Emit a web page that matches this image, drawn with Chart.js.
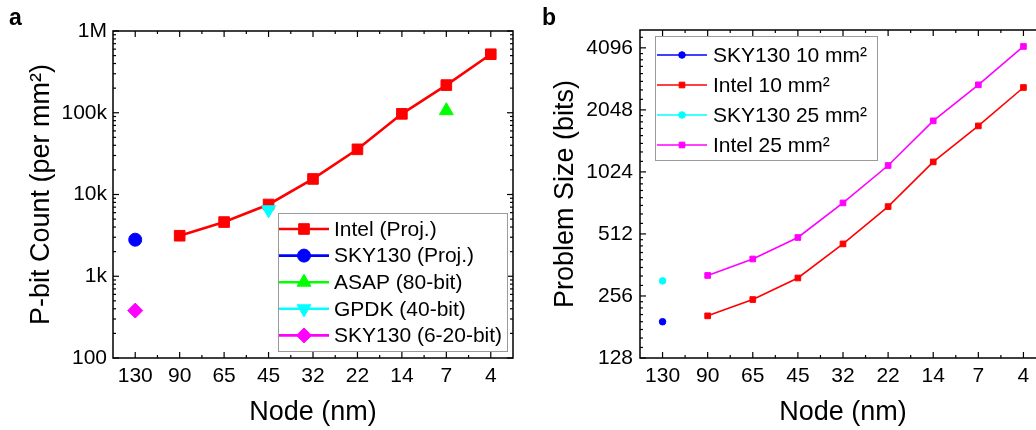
<!DOCTYPE html>
<html><head><meta charset="utf-8">
<script src="https://cdn.jsdelivr.net/npm/chart.js@4.4.1/dist/chart.umd.min.js"></script>
<style>
html,body{margin:0;padding:0;background:#fff;width:1036px;height:430px;overflow:hidden;position:relative}
#wa{position:absolute;left:0;top:0;width:525px;height:430px}
#wb{position:absolute;left:520px;top:0;width:540px;height:430px}
</style></head><body>
<div id="wa"><canvas id="ca"></canvas></div>
<div id="wb"><canvas id="cb"></canvas></div>
<script>
// ---------- data ----------
const nodes = ['130','90','65','45','32','22','14','7','4'];

// panel a : P-bit count per mm^2
const intelProj   = [null, 3130, 4600, 7550, 15500, 35700, 97000, 218000, 520000];
const sky130Proj  = [2800, null, null, null, null, null, null, null, null];
const asap80      = [null, null, null, null, null, null, null, 106000, null];
const gpdk40      = [null, null, null, 6500, null, null, null, null, null];
const sky130Small = [380, null, null, null, null, null, null, null, null];
const aTickValues = [100, 1000, 10000, 100000, 1000000];
const aTickLabels = ['100', '1k', '10k', '100k', '1M'];

// panel b : problem size (bits)
const sky130_10 = [192, null, null, null, null, null, null, null, null];
const intel_10  = [null, 205, 246, 313, 458, 695, 1145, 1712, 2630];
const sky130_25 = [303, null, null, null, null, null, null, null, null];
const intel_25  = [null, 322, 387, 492, 724, 1100, 1812, 2710, 4160];
const bTickValues = [128, 256, 512, 1024, 2048, 4096];
const bTickLabels = ['128', '256', '512', '1024', '2048', '4096'];

// ---------- styling ----------
const FONT = "'Liberation Sans', Arial, Helvetica, sans-serif";
Chart.defaults.font.family = FONT;
Chart.defaults.color = '#000';
const RED='#ff0000', BLUE='#0000ff', GREEN='#00ff00', CYAN='#00ffff', MAG='#ff00ff';

function marker(ctx, style, r, x, y, color, rot) {
  ctx.save();
  ctx.fillStyle = color; ctx.strokeStyle = color; ctx.lineWidth = 1;
  ctx.beginPath();
  if (style === 'rect') {
    const s = Math.SQRT1_2 * r; ctx.rect(x - s, y - s, 2*s, 2*s);
  } else if (style === 'circle') {
    ctx.arc(x, y, r, 0, Math.PI*2);
  } else if (style === 'triangle') {
    let a = (rot||0) * Math.PI/180;
    for (let k=0;k<3;k++){ const px = x + Math.sin(a)*r, py = y - Math.cos(a)*r; k?ctx.lineTo(px,py):ctx.moveTo(px,py); a += 2*Math.PI/3; }
    ctx.closePath();
  } else if (style === 'rectRot') {
    ctx.moveTo(x, y-r); ctx.lineTo(x+r, y); ctx.lineTo(x, y+r); ctx.lineTo(x-r, y); ctx.closePath();
  }
  ctx.fill(); ctx.stroke();
  ctx.restore();
}

function decor(cfg) {
  return {
    id: 'decor',
    afterDatasetsDraw(chart) {
      const ctx = chart.ctx, a = chart.chartArea, xs = chart.scales.x, ys = chart.scales.y;
      ctx.save();
      ctx.strokeStyle = '#000'; ctx.lineWidth = 1.5;
      ctx.strokeRect(a.left, a.top, a.right - a.left, a.bottom - a.top);
      ctx.lineWidth = 1.2;
      const seg = (x1,y1,x2,y2)=>{ctx.beginPath();ctx.moveTo(x1,y1);ctx.lineTo(x2,y2);ctx.stroke();};
      const n = chart.data.labels.length;
      for (let i=0;i<n;i++) {
        const px = xs.getPixelForValue(i);
        seg(px, a.bottom, px, a.bottom-6); seg(px, a.top, px, a.top+6);
        if (i < n-1) {
          const pm = (px + xs.getPixelForValue(i+1))/2;
          seg(pm, a.bottom, pm, a.bottom-3); seg(pm, a.top, pm, a.top+3);
        }
      }
      ys.ticks.forEach(t => {
        const py = ys.getPixelForValue(t.value);
        seg(a.left, py, a.left+6, py); seg(a.right, py, a.right-6, py);
      });
      cfg.minors(ys.min, ys.max).forEach(v => {
        const py = ys.getPixelForValue(v);
        seg(a.left, py, a.left+3, py); seg(a.right, py, a.right-3, py);
      });
      ctx.restore();
    },
    afterDraw(chart) {
      const ctx = chart.ctx, L = cfg.legend;
      ctx.save();
      ctx.strokeStyle = '#9a9a9a'; ctx.lineWidth = 1;
      ctx.strokeRect(L.box[0]+0.5, L.box[1]+0.5, L.box[2], L.box[3]);
      ctx.font = L.font + ' ' + FONT; ctx.textBaseline = 'middle'; ctx.textAlign = 'left';
      L.items.forEach((it, k) => {
        const y = L.y0 + k*L.dy;
        ctx.strokeStyle = it.color; ctx.lineWidth = it.lw;
        ctx.beginPath(); ctx.moveTo(L.x0, y); ctx.lineTo(L.x0 + L.len, y); ctx.stroke();
        marker(ctx, it.style, it.r, L.x0 + L.len/2, y, it.color, it.rot);
        ctx.fillStyle = '#000';
        ctx.fillText(it.label, L.tx, y + 1);
      });
      ctx.font = 'bold 23px ' + FONT; ctx.textBaseline = 'alphabetic'; ctx.fillStyle = '#000';
      ctx.fillText(cfg.panel[0], cfg.panel[1], cfg.panel[2]);
      ctx.restore();
    }
  };
}

function ds(label, data, color, style, r, lw, rot, showLine, order) {
  return {label, data, borderColor: color, backgroundColor: color, borderWidth: lw,
    pointStyle: style, pointRadius: r, pointHoverRadius: r, pointBorderWidth: 1,
    pointRotation: rot || 0, showLine: showLine, spanGaps: false, tension: 0, order: order || 0};
}

// ---------- panel a ----------
const aSets = [
  ds('Intel (Proj.)', intelProj, RED, 'rect', 7.5, 2.6, 0, true, 1),
  ds('SKY130 (Proj.)', sky130Proj, BLUE, 'circle', 6.5, 2.6, 0, false),
  ds('ASAP (80-bit)', asap80, GREEN, 'triangle', 8, 2.6, 0, false),
  ds('GPDK (40-bit)', gpdk40, CYAN, 'triangle', 8, 2.6, 180, false),
  ds('SKY130 (6-20-bit)', sky130Small, MAG, 'rectRot', 7.5, 2.6, 0, false)
];
new Chart(document.getElementById('ca'), {
  type: 'line',
  data: {labels: nodes, datasets: aSets},
  options: {
    responsive: true, maintainAspectRatio: false, animation: false, devicePixelRatio: 1,
    layout: {padding: {top: 31, right: 12, left: 0, bottom: 0}},
    plugins: {legend: {display: false}, tooltip: {enabled: false}},
    scales: {
      x: {type: 'category', offset: true, grid: {display: false, drawTicks: false}, border: {display: false},
          ticks: {font: {size: 21}, padding: 6, maxRotation: 0, autoSkip: false},
          title: {display: true, text: 'Node (nm)', font: {size: 27, lineHeight: 1}, padding: {top: 0, bottom: 4}},
          afterFit(s) { s.height = 72; }},
      y: {type: 'logarithmic', min: 100, max: 1000000, grid: {display: false, drawTicks: false}, border: {display: false},
          afterBuildTicks(s) { s.ticks = aTickValues.map(v => ({value: v})); },
          ticks: {font: {size: 21}, padding: 6, autoSkip: false, callback: (v, i) => aTickLabels[i]},
          title: {display: true, text: 'P-bit Count (per mm²)', font: {size: 27, lineHeight: 1}, padding: {top: 28, bottom: 0}},
          afterFit(s) { s.width = 113; }}
    }
  },
  plugins: [decor({
    minors: (mn, mx) => { const o=[]; for (let d=100; d<mx; d*=10) for (let m=2;m<10;m++) o.push(d*m); return o; },
    legend: {box: [278, 213, 229, 138], x0: 279, len: 50, tx: 334, y0: 229, dy: 26.6, font: '21px',
      items: [
        {label: 'Intel (Proj.)', color: RED, style: 'rect', r: 7.5, lw: 2.6},
        {label: 'SKY130 (Proj.)', color: BLUE, style: 'circle', r: 6.5, lw: 2.6},
        {label: 'ASAP (80-bit)', color: GREEN, style: 'triangle', r: 8, lw: 2.6},
        {label: 'GPDK (40-bit)', color: CYAN, style: 'triangle', r: 8, lw: 2.6, rot: 180},
        {label: 'SKY130 (6-20-bit)', color: MAG, style: 'rectRot', r: 7.5, lw: 2.6}
      ]},
    panel: ['a', 9, 25]
  })]
});

// ---------- panel b ----------
const bSets = [
  ds('SKY130 10 mm²', sky130_10, BLUE, 'circle', 3.3, 1.6, 0, false),
  ds('Intel 10 mm²', intel_10, RED, 'rect', 4, 1.6, 0, true),
  ds('SKY130 25 mm²', sky130_25, CYAN, 'circle', 3.3, 1.6, 0, false),
  ds('Intel 25 mm²', intel_25, MAG, 'rect', 4, 1.6, 0, true)
];
new Chart(document.getElementById('cb'), {
  type: 'line',
  data: {labels: nodes, datasets: bSets},
  options: {
    responsive: true, maintainAspectRatio: false, animation: false, devicePixelRatio: 1,
    layout: {padding: {top: 30, right: 14, left: 0, bottom: 0}},
    plugins: {legend: {display: false}, tooltip: {enabled: false}},
    scales: {
      x: {type: 'category', offset: true, grid: {display: false, drawTicks: false}, border: {display: false},
          ticks: {font: {size: 21}, padding: 6, maxRotation: 0, autoSkip: false},
          title: {display: true, text: 'Node (nm)', font: {size: 27, lineHeight: 1}, padding: {top: 0, bottom: 4}},
          afterFit(s) { s.height = 72; }},
      y: {type: 'logarithmic', min: 128, max: 5000, grid: {display: false, drawTicks: false}, border: {display: false},
          afterBuildTicks(s) { s.ticks = bTickValues.map(v => ({value: v})); },
          ticks: {font: {size: 21}, padding: 7, autoSkip: false, callback: (v, i) => bTickLabels[i]},
          title: {display: true, text: 'Problem Size (bits)', font: {size: 27, lineHeight: 1}, padding: {top: 32, bottom: 0}},
          afterFit(s) { s.width = 120; }}
    }
  },
  plugins: [decor({
    minors: (mn, mx) => { const o=[]; for (let b=128; b<mx; b*=2) for (let k=1;k<8;k++){ const v=b+k*b/8; if (v<mx) o.push(v);} return o; },
    legend: {box: [135, 36, 222, 124], x0: 137, len: 50, tx: 193, y0: 55, dy: 30, font: '21px',
      items: [
        {label: 'SKY130 10 mm²', color: BLUE, style: 'circle', r: 3.3, lw: 1.6},
        {label: 'Intel 10 mm²', color: RED, style: 'rect', r: 4, lw: 1.6},
        {label: 'SKY130 25 mm²', color: CYAN, style: 'circle', r: 3.3, lw: 1.6},
        {label: 'Intel 25 mm²', color: MAG, style: 'rect', r: 4, lw: 1.6}
      ]},
    panel: ['b', 22, 25]
  })]
});
</script>
</body></html>
